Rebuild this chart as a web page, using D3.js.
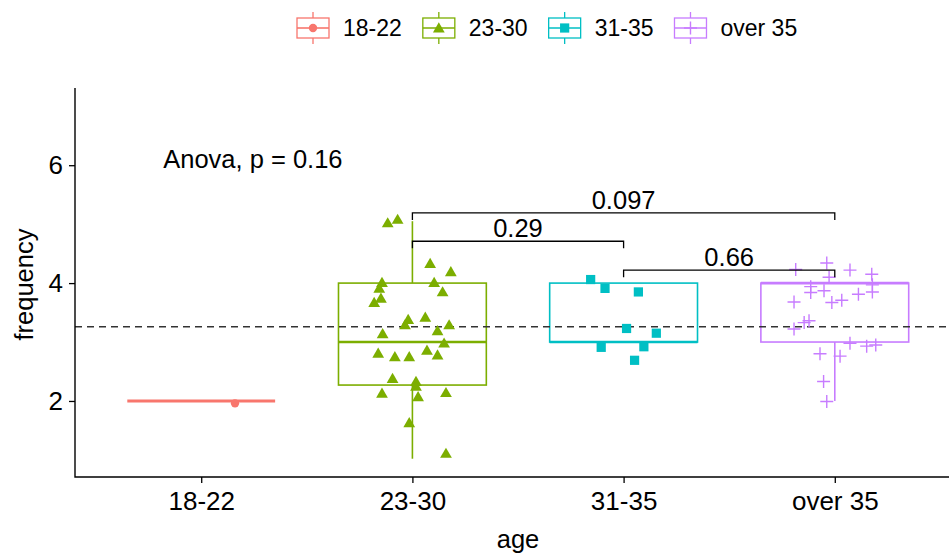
<!DOCTYPE html>
<html><head><meta charset="utf-8">
<script src="https://cdn.jsdelivr.net/npm/d3@7"></script>
<style>body{margin:0;background:#fff} svg{display:block} text{font-family:"Liberation Sans",Arial,sans-serif;fill:#000}</style>
</head><body><svg id="c" width="949" height="554"></svg>
<script>
// ---- data ----
const categories = ["18-22", "23-30", "31-35", "over 35"];
const colors = ["#F8766D", "#7CAE00", "#00BFC4", "#C77CFF"];
const shapes = ["circle", "triangle", "square", "plus"];
const boxMin = [2, 1.02, 3, 2];
const boxQ1  = [2, 2.27, 3, 3];
const boxMed = [2, 3, 3, 4];
const boxQ3  = [2, 4, 4, 4];
const boxMax = [2, 5.05, 4, 4];

const vals1822 = [1.96];
const jit1822  = [0.16];
const vals2330 = [5.02,5.08,4.33,4.19,4.01,4.01,3.91,3.85,3.74,3.67,3.38,3.42,3.29,3.29,3.19,3.14,2.98,2.81,2.75,2.75,2.86,2.78,2.38,2.33,2.25,2.13,2.07,2.14,1.63,1.11];
const jit2330  = [-0.117,-0.070,0.084,0.182,-0.144,0.103,-0.157,0.143,-0.149,-0.181,-0.020,0.061,-0.035,0.174,0.119,-0.141,0.150,-0.162,-0.083,-0.015,0.069,0.119,-0.094,0.017,0.017,-0.144,0.027,0.159,-0.015,0.159];
const vals3135 = [4.06,3.91,3.85,3.23,3.15,2.91,2.92,2.69];
const jit3135  = [-0.156,-0.088,0.070,0.014,0.155,-0.106,0.096,0.052];
const valsOver = [4.23,4.34,4.22,4.15,4.10,3.94,3.84,3.87,3.97,3.85,3.68,3.67,3.71,3.81,3.36,3.33,3.22,2.98,2.93,2.95,2.80,2.76,2.33,1.99];
const jitOver  = [-0.185,-0.038,0.072,0.175,-0.027,-0.114,-0.114,-0.051,0.178,0.178,-0.193,-0.014,0.033,0.112,-0.122,-0.145,-0.193,0.072,0.151,0.194,-0.070,0.025,-0.053,-0.038];
const groupVals = [vals1822, vals2330, vals3135, valsOver];
const groupJit  = [jit1822, jit2330, jit3135, jitOver];

const meanValue = 3.26;
const compFrom   = ["23-30", "31-35", "23-30"];
const compTo     = ["31-35", "over 35", "over 35"];
const compY      = [4.71, 4.22, 5.19];
const compLabels = ["0.29", "0.66", "0.097"];
const anovaLabel = "Anova, p = 0.16";
const anovaPos = [0.82, 6.1];   // [category units, value]
const yTicks = [2, 4, 6];

// ---- layout ----
const svg = d3.select("#c");
const pL = 75, pR = 961, pT = 88, pB = 477;
const x = d3.scalePoint().domain(categories).range([pL - 0.5, pR + 0.5]).padding(0.6);
const step = x.step();
const y = d3.scaleLinear().domain([0.71, 7.31]).range([pB, pT]);
const xi = v => x(categories[0]) + (v - 1) * step;

function meanLine() {
  svg.append("line").attr("x1", pL).attr("x2", 949)
    .attr("y1", y(meanValue)).attr("y2", y(meanValue))
    .attr("stroke", "#333").attr("stroke-width", 1.6).attr("stroke-dasharray", "7,5");
}

// boxes
const bw = 0.7 * step;
categories.forEach((c, i) => {
  const g = svg.append("g").attr("stroke", colors[i]).attr("fill", "none");
  const cx = x(c);
  if (boxQ1[i] === boxQ3[i]) {
    g.append("line").attr("x1", cx - bw/2).attr("x2", cx + bw/2)
      .attr("y1", y(boxMed[i])).attr("y2", y(boxMed[i])).attr("stroke-width", 3);
    return;
  }
  g.append("line").attr("x1", cx).attr("x2", cx).attr("y1", y(boxQ3[i])).attr("y2", y(boxMax[i])).attr("stroke-width", 1.6);
  g.append("line").attr("x1", cx).attr("x2", cx).attr("y1", y(boxQ1[i])).attr("y2", y(boxMin[i])).attr("stroke-width", 1.6);
  g.append("rect").attr("x", cx - bw/2).attr("y", y(boxQ3[i]))
    .attr("width", bw).attr("height", y(boxQ1[i]) - y(boxQ3[i]))
    .attr("fill", "#fff").attr("stroke-width", 1.6);
  g.append("line").attr("x1", cx - bw/2).attr("x2", cx + bw/2)
    .attr("y1", y(boxMed[i])).attr("y2", y(boxMed[i])).attr("stroke-width", 2.6);
});

meanLine();

function drawShape(g, shape, color, px, py) {
  if (shape === "plus") {
    g.append("path").attr("d", `M${px-6.5},${py}H${px+6.5}M${px},${py-6.5}V${py+6.5}`)
      .attr("stroke", color).attr("stroke-width", 1.4).attr("fill", "none");
  } else {
    const t = shape === "circle" ? d3.symbolCircle : shape === "triangle" ? d3.symbolTriangle : d3.symbolSquare;
    const size = shape === "circle" ? 55 : shape === "triangle" ? 60 : 85;
    g.append("path").attr("d", d3.symbol().type(t).size(size)())
      .attr("transform", `translate(${px},${py + (shape === "triangle" ? 1 : 0)})`)
      .attr("fill", color);
  }
}

// points
const pg = svg.append("g");
categories.forEach((c, i) => {
  groupVals[i].forEach((v, k) => {
    drawShape(pg, shapes[i], colors[i], x(c) + groupJit[i][k] * step, y(v));
  });
});

// brackets
const tip = 0.12;
compFrom.forEach((a, k) => {
  const x1 = x(a), x2 = x(compTo[k]), yy = y(compY[k]);
  svg.append("path")
    .attr("d", `M${x1},${y(compY[k] - tip)}V${yy}H${x2}V${y(compY[k] - tip)}`)
    .attr("fill", "none").attr("stroke", "#000").attr("stroke-width", 1.3);
  svg.append("text").attr("x", (x1 + x2) / 2).attr("y", yy - 4)
    .attr("text-anchor", "middle").attr("font-size", 25.5).text(compLabels[k]);
});

// anova label
svg.append("text").attr("x", xi(anovaPos[0])).attr("y", y(anovaPos[1]))
  .attr("dominant-baseline", "central").attr("font-size", 25.5).text(anovaLabel);

// axes
const gx = svg.append("g").attr("transform", `translate(0,${pB})`)
  .call(d3.axisBottom(x).tickSize(6).tickPadding(9));
const gy = svg.append("g").attr("transform", `translate(${pL},0)`)
  .call(d3.axisLeft(y).tickValues(yTicks).tickFormat(d3.format("d")).tickSize(6).tickPadding(6));
[gx, gy].forEach(g => {
  g.select(".domain").remove();
  g.selectAll(".tick line").attr("stroke", "#000").attr("stroke-width", 1.3);
  g.selectAll(".tick text").attr("font-size", 26).attr("font-family", "Liberation Sans, Arial, sans-serif").attr("fill", "#000");
});
svg.append("path").attr("d", `M${pL},${pT}V${pB}H949`)
  .attr("fill", "none").attr("stroke", "#000").attr("stroke-width", 1.4);

// axis titles
svg.append("text").attr("x", (pL + pR) / 2).attr("y", 548)
  .attr("text-anchor", "middle").attr("font-size", 25.5).text("age");
svg.append("text").attr("transform", `translate(33,${(pT + pB) / 2 + 2}) rotate(-90)`)
  .attr("text-anchor", "middle").attr("font-size", 25.5).text("frequency");

// legend
const lg = svg.append("g");
let lx = 297;
const ly = 28, kw = 32, kh = 20;
categories.forEach((c, i) => {
  const g = lg.append("g");
  const kc = lx + kw / 2;
  g.append("line").attr("x1", kc).attr("x2", kc).attr("y1", ly - kh/2 - 6).attr("y2", ly + kh/2 + 6)
    .attr("stroke", colors[i]).attr("stroke-width", 1.3);
  g.append("rect").attr("x", lx).attr("y", ly - kh/2).attr("width", kw).attr("height", kh)
    .attr("fill", "#fff").attr("stroke", colors[i]).attr("stroke-width", 1.3);
  g.append("line").attr("x1", lx).attr("x2", lx + kw).attr("y1", ly).attr("y2", ly)
    .attr("stroke", colors[i]).attr("stroke-width", 1.6);
  drawShape(g, shapes[i], colors[i], kc, ly);
  const t = g.append("text").attr("x", lx + kw + 14).attr("y", ly)
    .attr("dominant-baseline", "central").attr("font-size", 23).text(c);
  lx = lx + kw + 14 + t.node().getComputedTextLength() + 21;
});
</script></body></html>
